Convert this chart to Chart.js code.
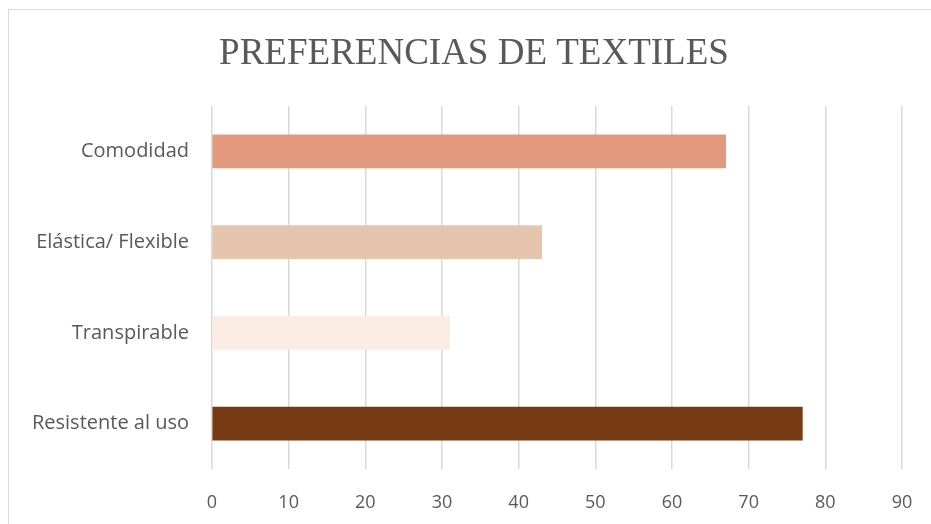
<!DOCTYPE html>
<html>
<head>
<meta charset="utf-8">
<script src="https://cdn.jsdelivr.net/npm/chart.js@4/dist/chart.umd.min.js"></script>
<style>
    html, body { margin: 0; padding: 0; background: #fff; overflow: hidden; }
    #frame {
        position: absolute;
        left: 8px;
        top: 9px;
        width: 940px;
        height: 520px;
        border: 1px solid #d9d9d9;
    }
</style>
</head>
<body>
<div id="frame"><canvas id="textiles" width="940" height="520"></canvas></div>
<script>
// datos
var categorias = ["Comodidad", "Elástica/ Flexible", "Transpirable", "Resistente al uso"];
var valores = [67, 43, 31, 77];
var colores = ["#e3997d", "#e6c5af", "#fbede4", "#763b12"];

var textColor = "#595959";

// y-axis labels are wider than the axis box, let them use the left padding
var labelRoom = {
    id: "labelRoom",
    afterLayout: function (chart) {
        chart.scales.y.left = 0;
    },
};

var ctx = document.getElementById("textiles").getContext("2d");
var chart = new Chart(ctx, {
    type: "bar",
    data: {
        labels: categorias,
        datasets: [
            {
                label: "",
                data: valores,
                backgroundColor: colores,
                borderWidth: 0,
                barThickness: 33,
            },
        ],
    },
    options: {
        indexAxis: "y",
        responsive: false,
        animation: false,
        layout: {
            padding: { left: 37, right: 47, top: 0, bottom: 0 },
        },
        plugins: {
            legend: { display: false },
            tooltip: { enabled: false },
            title: {
                display: true,
                text: "PREFERENCIAS DE TEXTILES",
                color: textColor,
                font: { family: "Liberation Serif", size: 37, weight: "normal" },
                padding: { top: 22, bottom: 29.6 },
            },
        },
        scales: {
            x: {
                min: 0,
                max: 90,
                ticks: {
                    stepSize: 10,
                    color: textColor,
                    padding: 23,
                    font: { family: "Open Sans", size: 18 },
                },
                grid: {
                    color: "#d9d9d9",
                    lineWidth: 1.5,
                    drawTicks: false,
                },
                border: { display: false },
                afterFit: function (scale) {
                    scale.height = 61;
                },
            },
            y: {
                ticks: {
                    color: textColor,
                    padding: 23,
                    font: { family: "Open Sans", size: 20 },
                },
                grid: { display: false, drawTicks: false },
                border: { display: false },
                afterFit: function (scale) {
                    scale.width = 166;
                },
            },
        },
    },
    plugins: [labelRoom],
});
</script>
</body>
</html>
